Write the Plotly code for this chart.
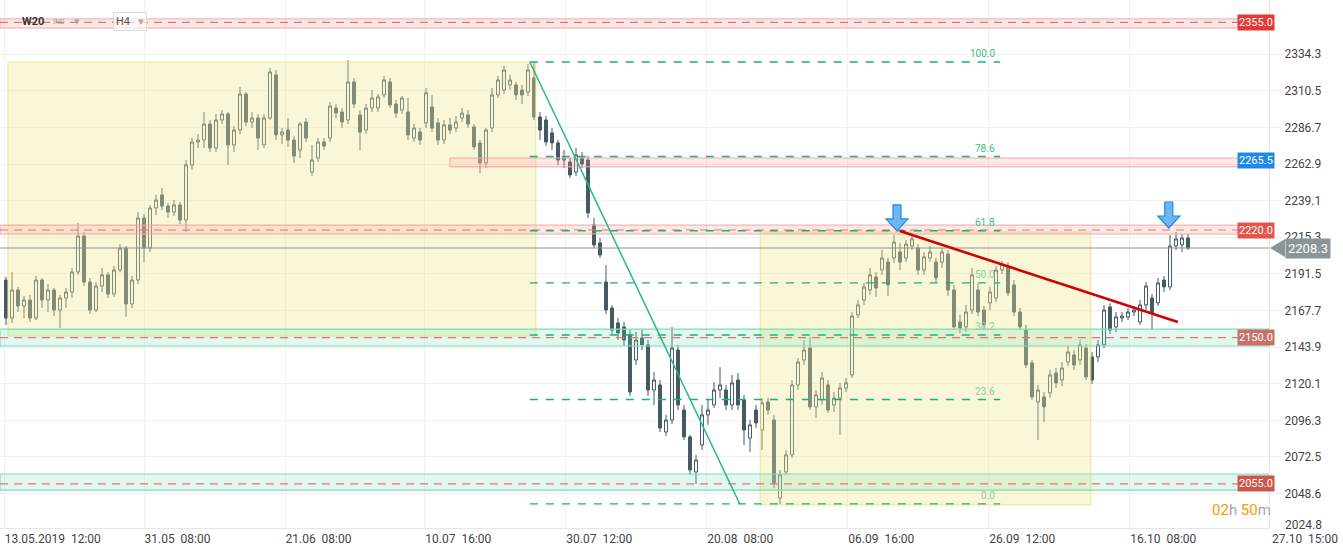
import plotly.graph_objects as go

# W20 (WIG20) H4 candles, 13.05.2019 - 27.10.2019
opens = [2187.5, 2162.8, 2181.0, 2170.6, 2174.5, 2162.8, 2187.5, 2174.5, 2181.0, 2168.0,
         2175.8, 2179.7, 2192.7, 2216.1, 2186.2, 2168.0, 2183.6, 2190.8, 2178.4, 2194.0,
         2208.3, 2171.9, 2187.5, 2227.8, 2208.3, 2234.3, 2242.8, 2235.6, 2231.7, 2236.3,
         2226.5, 2262.3, 2277.2, 2278.5, 2288.9, 2273.3, 2291.5, 2295.4, 2275.3, 2285.0,
         2308.4, 2290.2, 2292.8, 2275.3, 2292.8, 2320.8, 2281.8, 2285.0, 2278.5, 2272.0,
         2290.2, 2257.7, 2266.8, 2277.2, 2279.8, 2299.3, 2296.7, 2291.5, 2316.2, 2294.8,
         2285.0, 2299.3, 2299.3, 2307.8, 2316.2, 2301.9, 2298.0, 2296.7, 2279.8, 2283.7,
         2289.6, 2300.0, 2289.6, 2278.5, 2288.3, 2286.3, 2292.8, 2294.8, 2287.0, 2276.6,
         2263.6, 2286.3, 2307.8, 2311.0, 2314.3, 2314.3, 2311.0, 2309.7, 2318.8, 2293.5,
         2291.5, 2283.1, 2276.6, 2265.5, 2264.2, 2257.7, 2266.8, 2265.5, 2223.3, 2211.6,
         2186.2, 2169.3, 2159.6, 2157.0, 2151.8, 2135.5, 2149.8, 2145.3, 2116.0, 2119.3,
         2088.7, 2096.5, 2142.0, 2103.0, 2085.5, 2062.7, 2080.3, 2099.8, 2106.3, 2116.0,
         2116.0, 2106.3, 2122.5, 2109.5, 2084.8, 2103.0, 2090.0, 2108.2, 2096.5, 2045.8,
         2062.7, 2073.8, 2119.3, 2135.5, 2143.3, 2105.0, 2109.5, 2119.3, 2106.3, 2110.8,
         2117.3, 2125.8, 2164.8, 2174.5, 2181.0, 2189.5, 2194.0, 2199.2, 2201.8, 2205.7,
         2201.8, 2209.6, 2208.3, 2194.0, 2201.8, 2199.2, 2199.2, 2204.4, 2181.0, 2160.2,
         2157.0, 2168.0, 2181.0, 2168.0, 2172.6, 2175.8, 2194.0, 2196.6, 2184.3, 2166.7,
         2155.0, 2133.6, 2108.2, 2111.5, 2114.1, 2127.1, 2122.5, 2134.2, 2138.8, 2135.5,
         2143.3, 2137.5, 2137.5, 2145.3, 2170.0, 2157.0, 2162.8, 2163.5, 2166.7, 2160.2,
         2171.3, 2175.8, 2172.6, 2187.5, 2183.0, 2209.6, 2210.3, 2214.8]
highs = [2189.5, 2192.7, 2183.0, 2177.1, 2177.8, 2190.1, 2188.8, 2184.9, 2182.3, 2177.8,
         2182.3, 2195.3, 2224.6, 2218.7, 2188.8, 2186.2, 2195.3, 2192.7, 2196.6, 2210.9,
         2209.6, 2190.1, 2231.7, 2230.4, 2236.3, 2242.8, 2247.3, 2237.6, 2239.5, 2238.2,
         2265.5, 2279.8, 2282.4, 2296.7, 2291.5, 2295.4, 2298.0, 2296.7, 2287.6, 2313.0,
         2309.7, 2296.7, 2295.4, 2295.4, 2325.3, 2324.0, 2286.3, 2292.8, 2281.1, 2290.2,
         2292.8, 2275.3, 2279.8, 2279.8, 2303.2, 2301.9, 2299.3, 2330.5, 2318.8, 2298.0,
         2301.9, 2311.0, 2308.4, 2320.1, 2318.8, 2304.5, 2307.1, 2305.8, 2288.9, 2286.3,
         2312.3, 2307.8, 2292.8, 2291.5, 2292.8, 2294.1, 2299.3, 2298.0, 2288.9, 2278.5,
         2286.3, 2312.3, 2320.1, 2326.6, 2320.8, 2316.2, 2314.3, 2327.9, 2329.2, 2296.7,
         2294.1, 2286.3, 2278.5, 2272.0, 2266.8, 2273.3, 2270.7, 2268.1, 2227.8, 2214.8,
         2197.3, 2171.3, 2162.8, 2160.2, 2155.0, 2153.7, 2155.0, 2148.5, 2127.7, 2122.5,
         2099.8, 2157.0, 2145.3, 2106.3, 2086.8, 2073.8, 2106.3, 2109.5, 2121.2, 2130.9,
         2119.3, 2125.8, 2127.1, 2112.8, 2096.5, 2106.3, 2110.8, 2110.8, 2099.8, 2064.0,
         2077.0, 2122.5, 2136.8, 2148.5, 2150.5, 2116.0, 2127.7, 2122.5, 2114.7, 2120.6,
         2123.8, 2166.7, 2174.5, 2185.6, 2195.3, 2192.7, 2207.0, 2201.8, 2216.8, 2211.6,
         2213.5, 2217.4, 2210.9, 2205.7, 2209.6, 2201.8, 2208.3, 2207.0, 2184.3, 2164.8,
         2171.3, 2195.3, 2184.9, 2170.6, 2183.0, 2196.6, 2199.9, 2199.2, 2187.5, 2169.3,
         2158.3, 2135.5, 2119.3, 2114.7, 2129.0, 2130.3, 2134.2, 2144.6, 2142.0, 2148.5,
         2145.9, 2140.7, 2148.5, 2171.3, 2172.5, 2166.7, 2166.7, 2169.3, 2170.6, 2174.5,
         2186.2, 2178.4, 2188.8, 2190.1, 2216.8, 2218.7, 2217.4, 2217.4]
lows = [2158.3, 2159.6, 2166.7, 2162.8, 2160.2, 2161.5, 2169.3, 2166.7, 2164.1, 2156.3,
        2169.3, 2175.8, 2190.8, 2183.6, 2165.4, 2166.7, 2179.7, 2175.8, 2176.5, 2192.7,
        2163.5, 2169.3, 2184.9, 2199.2, 2205.7, 2229.8, 2233.0, 2227.8, 2229.1, 2223.9,
        2218.7, 2259.0, 2273.3, 2273.3, 2270.7, 2270.7, 2288.9, 2262.3, 2270.7, 2282.4,
        2287.6, 2286.3, 2272.0, 2273.3, 2291.5, 2278.5, 2275.9, 2274.0, 2263.6, 2266.8,
        2277.2, 2255.1, 2264.2, 2272.0, 2277.2, 2292.8, 2286.3, 2288.9, 2299.3, 2272.0,
        2282.4, 2296.7, 2296.7, 2305.8, 2299.3, 2292.8, 2295.4, 2278.5, 2277.2, 2275.3,
        2286.3, 2283.7, 2275.3, 2275.9, 2282.4, 2283.7, 2290.2, 2286.3, 2272.0, 2257.1,
        2260.3, 2283.7, 2305.8, 2308.4, 2311.0, 2304.5, 2301.9, 2307.1, 2291.5, 2278.5,
        2274.6, 2272.0, 2262.3, 2260.3, 2253.8, 2255.1, 2260.3, 2227.8, 2208.3, 2201.8,
        2165.4, 2152.4, 2148.5, 2144.6, 2112.1, 2132.3, 2142.0, 2112.1, 2106.3, 2088.7,
        2086.1, 2093.9, 2103.0, 2083.5, 2060.8, 2054.9, 2077.0, 2093.3, 2104.3, 2110.8,
        2103.0, 2103.0, 2103.0, 2080.3, 2075.7, 2091.3, 2077.0, 2099.8, 2052.3, 2041.9,
        2060.8, 2071.8, 2116.0, 2132.3, 2103.0, 2097.8, 2106.3, 2101.1, 2101.7, 2086.8,
        2114.7, 2123.8, 2162.8, 2171.3, 2177.8, 2176.5, 2190.8, 2177.1, 2198.6, 2194.0,
        2199.2, 2207.0, 2190.8, 2190.8, 2199.2, 2186.2, 2195.3, 2177.1, 2155.0, 2153.1,
        2153.7, 2165.4, 2164.1, 2155.0, 2168.0, 2173.2, 2191.4, 2177.1, 2164.1, 2155.0,
        2130.3, 2109.5, 2083.5, 2095.2, 2110.8, 2117.3, 2118.6, 2131.6, 2129.0, 2132.3,
        2122.5, 2119.9, 2134.2, 2143.3, 2152.4, 2153.7, 2160.2, 2161.5, 2164.1, 2158.3,
        2168.0, 2155.0, 2170.6, 2179.7, 2181.0, 2207.0, 2205.7, 2207.0]
closes = [2162.8, 2181.0, 2170.6, 2174.5, 2162.8, 2187.5, 2174.5, 2181.0, 2168.0, 2175.8,
          2179.7, 2192.7, 2216.1, 2186.2, 2168.0, 2183.6, 2190.8, 2178.4, 2194.0, 2208.3,
          2171.9, 2187.5, 2227.8, 2208.3, 2234.3, 2239.5, 2235.6, 2231.7, 2236.3, 2226.5,
          2262.3, 2277.2, 2278.5, 2288.9, 2273.3, 2291.5, 2295.4, 2275.3, 2285.0, 2308.4,
          2290.2, 2292.8, 2279.8, 2292.8, 2322.7, 2281.8, 2283.7, 2278.5, 2268.1, 2288.9,
          2279.8, 2265.5, 2277.2, 2274.6, 2300.6, 2296.0, 2290.2, 2316.2, 2301.9, 2283.7,
          2299.3, 2305.8, 2306.5, 2317.5, 2301.3, 2296.0, 2305.8, 2281.8, 2286.3, 2278.5,
          2309.1, 2286.3, 2278.5, 2288.3, 2285.0, 2290.2, 2296.0, 2288.9, 2274.0, 2263.6,
          2285.0, 2307.8, 2317.5, 2324.0, 2317.5, 2307.8, 2307.8, 2324.0, 2293.5, 2285.0,
          2277.2, 2276.6, 2265.5, 2266.8, 2255.8, 2268.8, 2262.9, 2231.1, 2210.3, 2203.8,
          2168.0, 2155.0, 2153.1, 2148.5, 2114.7, 2148.5, 2145.3, 2116.0, 2122.5, 2091.3,
          2096.5, 2143.3, 2106.3, 2085.5, 2064.0, 2070.5, 2099.8, 2103.0, 2116.0, 2119.3,
          2106.3, 2120.6, 2106.3, 2090.0, 2093.3, 2094.6, 2107.6, 2103.0, 2055.6, 2060.8,
          2073.8, 2119.3, 2134.2, 2142.0, 2105.0, 2112.8, 2123.8, 2103.0, 2110.8, 2117.3,
          2120.6, 2164.1, 2171.3, 2183.0, 2190.8, 2182.3, 2201.8, 2184.3, 2212.2, 2199.2,
          2210.9, 2214.2, 2194.0, 2202.5, 2205.7, 2188.8, 2205.7, 2181.0, 2157.0, 2156.3,
          2166.7, 2190.8, 2166.7, 2158.3, 2179.7, 2194.0, 2197.9, 2179.1, 2166.7, 2157.0,
          2132.3, 2111.5, 2116.0, 2105.0, 2125.8, 2120.6, 2130.3, 2140.7, 2132.3, 2145.3,
          2124.5, 2122.5, 2145.3, 2168.0, 2155.0, 2163.5, 2164.1, 2166.7, 2168.0, 2171.3,
          2183.6, 2166.1, 2185.6, 2183.0, 2209.6, 2214.2, 2214.8, 2208.3]

x_ticks = [-0.3, 23.0, 46.5, 69.8, 93.3, 116.8, 140.3, 163.8, 187.3]
x_labels = ['13.05.2019  12:00', '31.05  08:00', '21.06  08:00', '10.07  16:00', '30.07  12:00',
            '20.08  08:00', '06.09  16:00', '26.09  12:00', '16.10  08:00']
y_ticks = [2334.3, 2310.5, 2286.7, 2262.9, 2239.1, 2215.3, 2191.5, 2167.7, 2143.9,
           2120.1, 2096.3, 2072.5, 2048.6]

# horizontal levels drawn on the chart
red_zones = [(2357.2, 2351.3), (2223.2, 2217.4)]
green_zones = [(2155.6, 2144.6), (2061.4, 2050.9)]
level_lines = [2355.0, 2220.0, 2150.0, 2055.0]
level_tags = [(2355.0, '#e53935'), (2265.5, '#1e88e5'), (2220.0, '#e5534b'),
              (2150.0, '#c8706a'), (2055.0, '#d0554c')]
last_price = 2208.3

fib_low, fib_high = 2042.0, 2329.2
fib_ratios = [0.0, 23.6, 38.2, 50.0, 61.8, 78.6, 100.0]

n = len(closes)
xs = list(range(n))
X0, X1 = -1, 210.5
PX = 6.0          # pixels per candle
PY = 0.65         # price per pixel
W, H = 1269, 528  # plot area in px
dark = '#455a64'

fig = go.Figure(go.Candlestick(
    x=xs, open=opens, high=highs, low=lows, close=closes,
    increasing=dict(line=dict(color=dark, width=1), fillcolor='white'),
    decreasing=dict(line=dict(color=dark, width=1), fillcolor=dark),
    whiskerwidth=0, showlegend=False, hoverinfo='skip'))

shapes = []
ann = []


def hline(y, color, dash, width=1, x0=X0, x1=X1):
    shapes.append(dict(type='line', xref='x', yref='y', x0=x0, x1=x1, y0=y, y1=y,
                       line=dict(color=color, width=width, dash=dash), layer='above'))


# yellow boxes
for bx0, bx1, by0, by1 in [(0.33, 88.3, 2151.1, 2329.2), (125.7, 180.8, 2041.3, 2218.7)]:
    shapes.append(dict(type='rect', xref='x', yref='y', x0=bx0, x1=bx1, y0=by0, y1=by1,
                       fillcolor='rgba(240,229,146,0.36)', line=dict(color='#f1e38a', width=1),
                       layer='above'))

# zones
for top, bot in red_zones:
    shapes.append(dict(type='rect', xref='x', yref='y', x0=X0, x1=X1, y0=bot, y1=top,
                       fillcolor='rgba(255,150,150,0.22)', line=dict(color='#f4a5a5', width=1),
                       layer='above'))
shapes.append(dict(type='rect', xref='x', yref='y', x0=74, x1=X1, y0=2261.0, y1=2266.8,
                   fillcolor='rgba(255,150,150,0.22)', line=dict(color='#f4a5a5', width=1),
                   layer='above'))
for top, bot in green_zones:
    shapes.append(dict(type='rect', xref='x', yref='y', x0=X0, x1=X1, y0=bot, y1=top,
                       fillcolor='rgba(120,220,180,0.22)', line=dict(color='#7fdcb3', width=1.2),
                       layer='above'))
for lv in level_lines:
    hline(lv, '#e57373', '8px,6px', 1.2)

# last price line
hline(last_price, '#8a9499', 'solid', 1)

# fibonacci retracement
for r in fib_ratios:
    p = fib_low + (fib_high - fib_low) * r / 100
    hline(p, '#13b478', '8px,8px', 1.4, 87.3, 165.7)
    inside = r <= 50.0
    ann.append(dict(x=165.2, y=p, xref='x', yref='y', text=f'{r:.1f}', showarrow=False,
                    xanchor='right', yanchor='bottom', yshift=1,
                    font=dict(size=10, color='#86d3a3' if inside else '#3cbf7e')))

# trend lines
shapes.append(dict(type='line', xref='x', yref='y', x0=87.3, y0=2329.2, x1=122.3, y1=2041.9,
                   line=dict(color='#22b98a', width=1.5), layer='above'))
shapes.append(dict(type='line', xref='x', yref='y', x0=149.0, y0=2219.3, x1=195.3, y1=2160.2,
                   line=dict(color='#d50000', width=2.6), layer='above'))


# blue down arrows
def arrow(tx, ty):
    sw, hw = 4 / PX, 11 / PX
    top, neck = 26 * PY, 12 * PY
    pts = [(tx - sw, ty + top), (tx + sw, ty + top), (tx + sw, ty + neck), (tx + hw, ty + neck),
           (tx, ty), (tx - hw, ty + neck), (tx - sw, ty + neck)]
    path = 'M ' + ' L '.join(f'{a},{b}' for a, b in pts) + ' Z'
    shapes.append(dict(type='path', xref='x', yref='y', path=path, fillcolor='#6cb8f6',
                       line=dict(color='#1e88e5', width=1.2), layer='above'))


arrow(148.5, 2219.4)
arrow(193.8, 2221.3)

# right side price tags
for lv, col in level_tags:
    ann.append(dict(x=1275 / W, y=lv, xref='paper', yref='y', text=f'{lv:.1f}',
                    showarrow=False, xanchor='right', yanchor='middle', bgcolor=col, borderpad=1,
                    font=dict(size=11, color='white', family='Roboto')))

# last price tag: pointer triangle + box
lp = last_price
shapes.append(dict(type='path', xref='paper', yref='y',
                   path=(f'M {1270/W},{lp} L {1285/W},{lp + 9*PY} '
                         f'L {1285/W},{lp - 9*PY} Z'),
                   fillcolor='#8a9499', line=dict(width=0), layer='above'))
ann.append(dict(x=1331 / W, y=lp, xref='paper', yref='y', text=f'{lp:.1f}', showarrow=False,
                xanchor='right', yanchor='middle', bgcolor='#8a9499', borderpad=2,
                font=dict(size=13, color='white', family='Roboto')))

# bottom labels not covered by the axes
ann.append(dict(x=1283 / W, y=2028.5, xref='paper', yref='y', text='2024.8', showarrow=False,
                xanchor='left', yanchor='middle', font=dict(size=12, color='#444', family='Roboto')))
ann.append(dict(x=1270 / W, y=0, xref='paper', yref='paper', text='27.10\u00a0 15:00',
                showarrow=False, xanchor='left', yanchor='top', yshift=-2,
                font=dict(size=12, color='#444', family='Roboto')))
ann.append(dict(x=1273 / W, y=1 - 510 / H, xref='paper', yref='paper', showarrow=False,
                xanchor='right', yanchor='middle',
                text=('<span style="color:#ff9800">02</span>h '
                      '<span style="color:#ff9800">50</span>m'),
                font=dict(size=15, color='#a8a8a8', family='Roboto')))

# header
hy = 1 - 22 / H
ann.append(dict(x=20 / W, y=hy, xref='paper', yref='paper', text='<b>W20</b>',
                showarrow=False, xanchor='left', yanchor='middle',
                font=dict(size=11, color='#333', family='Roboto')))
ann.append(dict(x=51 / W, y=hy, xref='paper', yref='paper', text='IND',
                showarrow=False, xanchor='left', yanchor='middle',
                font=dict(size=7, color='#999', family='Roboto')))
ann.append(dict(x=72 / W, y=hy, xref='paper', yref='paper', text='\u25be',
                showarrow=False, xanchor='left', yanchor='middle', font=dict(size=11, color='#aaa')))
ann.append(dict(x=113 / W, y=hy, xref='paper', yref='paper',
                text='H4\u00a0\u00a0 <span style="color:#aaa">\u25be</span>', showarrow=False,
                xanchor='left', yanchor='middle', bgcolor='rgba(255,255,255,0.6)',
                bordercolor='#dddddd', borderwidth=1, borderpad=2,
                font=dict(size=11, color='#555', family='Roboto')))

fig.update_layout(
    width=1343, height=554,
    margin=dict(l=0, r=74, t=0, b=26),
    paper_bgcolor='white', plot_bgcolor='white',
    font=dict(family='Roboto', size=12, color='#444'),
    shapes=shapes, annotations=ann,
    xaxis=dict(range=[X0, X1], rangeslider=dict(visible=False), tickmode='array',
               tickvals=x_ticks, ticktext=[t.replace('  ', '\u00a0 ') for t in x_labels],
               ticklabelposition='outside right', showgrid=True, gridcolor='#f0f0f0',
               zeroline=False, showline=True, linecolor='#e6e6e6', ticks='',
               tickfont=dict(size=12, color='#444')),
    yaxis=dict(range=[2369.5 - H * PY, 2369.5], side='right', tickmode='array',
               tickvals=y_ticks, ticktext=[f'{v:.1f}' for v in y_ticks],
               showgrid=True, gridcolor='#f0f0f0', zeroline=False, showline=True,
               linecolor='#e6e6e6', ticks='outside', ticklen=12, tickcolor='#eeeeee',
               tickfont=dict(size=12, color='#444')),
)

fig.write_html('out.html', config={'displayModeBar': False},
               post_script="document.body.style.margin='0';")
